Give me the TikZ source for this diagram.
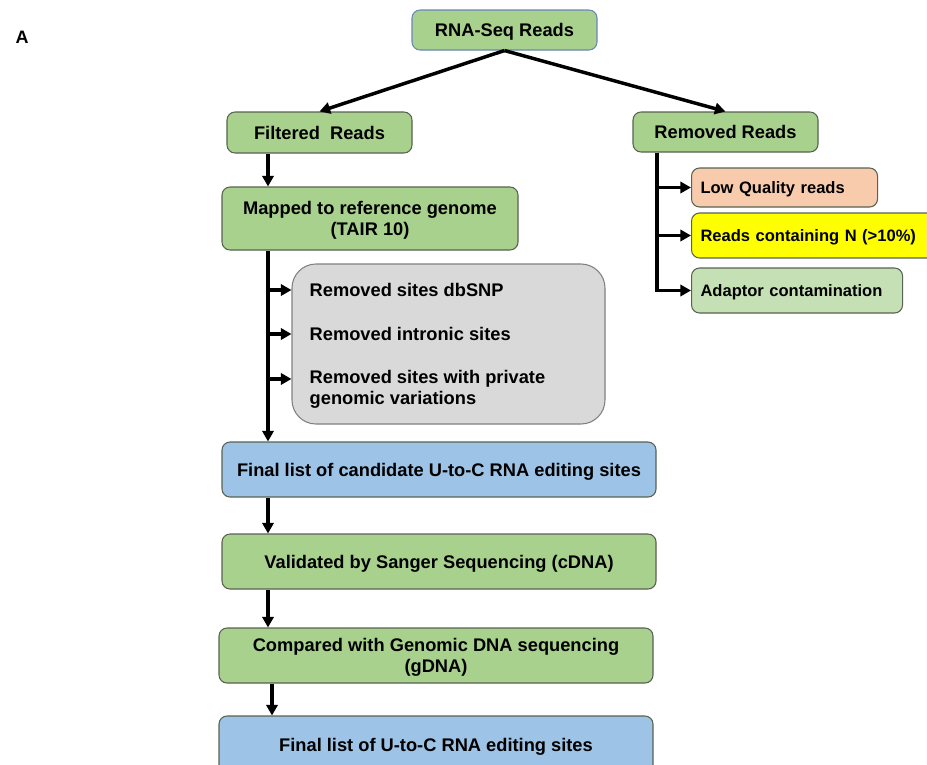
\documentclass[tikz,border=0pt]{standalone}
\usepackage{fontspec}
\setmainfont{Liberation Sans}
\usepackage{xcolor}
\usetikzlibrary{arrows.meta}

\definecolor{boxgreen}{RGB}{169,209,142}
\definecolor{lightgreen}{RGB}{197,224,180}
\definecolor{boxorange}{RGB}{248,203,173}
\definecolor{boxyellow}{RGB}{255,255,0}
\definecolor{boxgray}{RGB}{217,217,217}
\definecolor{boxblue}{RGB}{157,195,230}
\definecolor{edge}{RGB}{88,98,82}
\definecolor{blueedge}{RGB}{105,135,185}

\tikzset{
  stepbox/.style={draw=edge, line width=0.8pt, rounded corners=6pt, align=center,
    inner sep=0pt, text depth=0pt, font=\bfseries\fontsize{13.7}{15.75}\selectfont},
  sidebox/.style={stepbox, anchor=west, align=left, inner xsep=6.75pt,
    font=\bfseries\fontsize{12.4}{15}\selectfont},
  arr/.style={line width=2.6pt, -{Triangle[length=8pt,width=8.5pt]}},
  stem/.style={line width=2.6pt}
}

\begin{document}
\begin{tikzpicture}
[x=0.75pt,y=0.75pt,yscale=-1,xscale=1]
\useasboundingbox (0,0) rectangle (927,764);

\node [font=\bfseries\fontsize{13.5}{16}\selectfont] (lbl) at (22,37) {A};

% main column
\node [stepbox, draw=blueedge, fill=boxgreen, minimum width=138.75pt, minimum height=30pt] (rna) at (504.5,30) {RNA-Seq Reads};
\node [stepbox, fill=boxgreen, minimum width=138.75pt, minimum height=30.75pt] (filt) at (319.5,132.5) {Filtered\ \ Reads};
\node [stepbox, fill=boxgreen, minimum width=138.75pt, minimum height=30pt] (remv) at (725.5,132) {Removed Reads};
\node [stepbox, fill=boxgreen, minimum width=222pt, minimum height=47.25pt] (mapd) at (370,218.5) {Mapped to reference genome\\(TAIR 10)};
\node [stepbox, draw=gray, fill=boxgray, rounded corners=18pt, minimum width=234.75pt, minimum height=120pt] (gray) at (448.5,344) {};
\node [stepbox, fill=boxblue, minimum width=325.5pt, minimum height=41.25pt] (cand) at (439,469.5) {Final list of candidate U-to-C RNA editing sites};
\node [stepbox, fill=boxgreen, minimum width=325.5pt, minimum height=41.25pt] (valid) at (439,561.5) {Validated by Sanger Sequencing (cDNA)};
\node [stepbox, fill=boxgreen, minimum width=325.5pt, minimum height=41.25pt] (comp) at (436,655.5) {Compared with Genomic DNA sequencing\\(gDNA)};
\node [stepbox, fill=boxblue, minimum width=325.5pt, minimum height=43.5pt] (final) at (436,745) {Final list of U-to-C RNA editing sites};

% texts in the gray box
\node [anchor=west, align=left, font=\bfseries\fontsize{13.7}{15.75}\selectfont] (dbsnp) at (305,290) {Removed sites dbSNP};
\node [anchor=west, align=left, font=\bfseries\fontsize{13.7}{15.75}\selectfont] (intr) at (305,334) {Removed intronic sites};
\node [anchor=west, align=left, font=\bfseries\fontsize{13.7}{15.75}\selectfont] (prv) at (305,389.5) {Removed sites with private\\genomic variations};

% removed reads
\node [sidebox, fill=boxorange, minimum width=139.5pt, minimum height=29.25pt, text width=126pt] (lowq) at (691,187.5) {Low Quality reads};
\node [sidebox, fill=boxyellow, minimum width=183pt, minimum height=33.75pt, text width=169.5pt] (readn) at (691,235.5) {Reads containing N (>10\%)};
\node [sidebox, fill=lightgreen, minimum width=158.25pt, minimum height=33.75pt, text width=144.75pt] (adapt) at (691,290.5) {Adaptor contamination};

\coordinate (col) at (268,0);
\coordinate (col2) at (657,0);

% connectors
\draw [arr] (rna.south) -- (filt.north);
\draw [arr] (rna.south) -- (remv.north);
\draw [arr] (filt.south -| col) -- (mapd.north -| col);
\draw [arr] (mapd.south -| col) -- (cand.north -| col);
\draw [arr] (dbsnp -| col) -- (gray.west |- dbsnp);
\draw [arr] (intr -| col) -- (gray.west |- intr);
\draw [arr] ([yshift=-7.9pt]prv.west -| col) -- ([yshift=-7.9pt]gray.west |- prv.west);
\draw [arr] (cand.south -| col) -- (valid.north -| col);
\draw [arr] (valid.south -| col) -- (comp.north -| col);
\draw [arr] ([xshift=3pt]comp.south -| col) -- ([xshift=3pt]final.north -| col);

\draw [arr] (remv.south -| col2) |- (adapt.west);
\draw [arr] (lowq.west -| col2) -- (lowq.west);
\draw [arr] (readn.west -| col2) -- (readn.west);

\end{tikzpicture}
\end{document}
